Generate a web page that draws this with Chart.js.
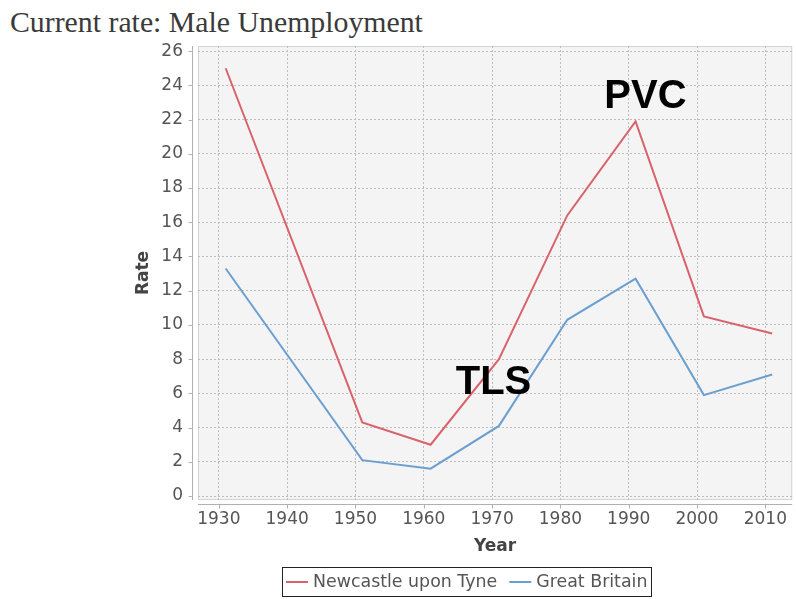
<!DOCTYPE html>
<html lang="en">
<head>
<meta charset="UTF-8">
<title>Current rate: Male Unemployment</title>
<script src="https://cdn.jsdelivr.net/npm/chart.js@4.4.1/dist/chart.umd.min.js"></script>
<style>
  html, body { margin: 0; padding: 0; background: #fff; }
  body { width: 796px; height: 599px; position: relative; overflow: hidden; }
  #title { position: absolute; left: 10px; top: 7px; font-family: "Liberation Serif", "Times New Roman", serif; font-size: 29.8px; line-height: 29px; color: #3a3a3a; white-space: nowrap; }
  #wrap { position: absolute; left: 0; top: 0; width: 796px; height: 599px; }
</style>
</head>
<body>
<div id="title">Current rate: Male Unemployment</div>
<div id="wrap"><canvas id="chart" width="796" height="599"></canvas></div>
<script>
// census years
const years = [1931, 1951, 1961, 1971, 1981, 1991, 2001, 2011];
const newcastle = [25.0, 4.3, 3.0, 8.0, 16.4, 21.9, 10.5, 9.5];
const britain = [13.3, 2.1, 1.6, 4.1, 10.3, 12.7, 5.9, 7.1];
const seriesNames = ["Newcastle upon Tyne", "Great Britain"];
// labels written over the plot, placed in data space
const notes = [
  { text: "PVC", year: 1992.45, rate: 23.5 },
  { text: "TLS", year: 1970.2, rate: 6.8 },
];

const RED = '#d9636b';
const BLUE = '#6b9fd1';
const SANS = '"DejaVu Sans", Verdana, sans-serif';

const pts = vals => vals.map((v, i) => ({ x: years[i], y: v }));

// JFreeChart-like plot: grey background, offset axis lines, boxed legend
const plotDecor = {
  id: 'plotDecor',
  beforeDraw(chart) {
    const { ctx, chartArea: a } = chart;
    ctx.save();
    ctx.fillStyle = '#f4f4f4';
    ctx.fillRect(a.left, a.top, a.right - a.left, a.bottom - a.top);
    ctx.strokeStyle = '#d4d4d4';
    ctx.lineWidth = 1;
    ctx.strokeRect(a.left + 0.5, a.top + 0.5, a.right - a.left - 1, a.bottom - a.top - 1);
    ctx.restore();
  },
  afterDraw(chart) {
    const { ctx, chartArea: a, scales } = chart;
    ctx.save();
    // axis lines + tick marks
    ctx.strokeStyle = '#b0b0b0';
    ctx.lineWidth = 1;
    const ax = a.left - 5.5, ay = a.bottom + 4.5;
    ctx.beginPath();
    ctx.moveTo(ax, a.top); ctx.lineTo(ax, a.bottom);
    ctx.moveTo(a.left, ay); ctx.lineTo(a.right, ay);
    scales.y.ticks.forEach(t => {
      const py = Math.round(scales.y.getPixelForValue(t.value)) + 0.5;
      ctx.moveTo(ax - 4, py); ctx.lineTo(ax, py);
    });
    scales.x.ticks.forEach(t => {
      const px = Math.round(scales.x.getPixelForValue(t.value)) + 0.5;
      ctx.moveTo(px, ay); ctx.lineTo(px, ay + 4);
    });
    ctx.stroke();

    // annotations
    ctx.fillStyle = '#000';
    ctx.font = 'bold 40px "Liberation Sans", Arial, sans-serif';
    ctx.textAlign = 'center';
    ctx.textBaseline = 'alphabetic';
    notes.forEach(n => {
      const px = scales.x.getPixelForValue(n.year);
      const py = scales.y.getPixelForValue(n.rate);
      ctx.fillText(n.text, px, py + 14.3);
    });

    // legend box
    ctx.font = '17.4px ' + SANS;
    ctx.textBaseline = 'middle';
    ctx.textAlign = 'left';
    const sample = 22, gap = 5, between = 12, pad = 4;
    const widths = chart.data.datasets.map(d => ctx.measureText(d.label).width);
    let total = pad * 2;
    widths.forEach((w, i) => { total += sample + gap + w + (i ? between : 0); });
    const cx = 467, top = 567, h = 29;
    let x = Math.round(cx - total / 2);
    ctx.strokeStyle = '#222';
    ctx.lineWidth = 1;
    ctx.strokeRect(x + 0.5, top + 0.5, Math.round(total), h);
    x += pad;
    const my = top + h / 2 + 0.5;
    chart.data.datasets.forEach((d, i) => {
      if (i) x += between;
      ctx.strokeStyle = d.borderColor;
      ctx.lineWidth = 2;
      ctx.beginPath(); ctx.moveTo(x, my); ctx.lineTo(x + sample, my); ctx.stroke();
      x += sample + gap;
      ctx.fillStyle = '#555';
      ctx.fillText(d.label, x, my);
      x += widths[i];
    });
    ctx.restore();
  }
};

new Chart(document.getElementById('chart'), {
  type: 'line',
  data: {
    datasets: [
      { label: seriesNames[0], data: pts(newcastle), borderColor: RED, backgroundColor: RED, borderWidth: 2, pointRadius: 0, tension: 0 },
      { label: seriesNames[1], data: pts(britain), borderColor: BLUE, backgroundColor: BLUE, borderWidth: 2, pointRadius: 0, tension: 0 },
    ]
  },
  options: {
    responsive: false,
    animation: false,
    layout: { padding: { left: 128, top: 46, right: 0, bottom: 0 } },
    plugins: { legend: { display: false }, tooltip: { enabled: false }, title: { display: false } },
    scales: {
      x: {
        type: 'linear',
        min: 1926.95,
        max: 2013.93,
        afterFit: s => { s.height = 99; },
        grid: { color: '#bdbdbd', drawTicks: false, lineWidth: 1 },
        border: { display: false, dash: [2, 2] },
        ticks: { stepSize: 10, includeBounds: false, padding: 9, color: '#555', font: { family: SANS, size: 17 }, callback: v => String(v) },
        title: { display: true, text: 'Year', color: '#444', font: { family: SANS, size: 17, weight: 'bold' }, padding: { top: 0, bottom: 42 } }
      },
      y: {
        min: -0.23,
        max: 26.3,
        afterFit: s => { s.width = 70; },
        grid: { color: '#bdbdbd', drawTicks: false, lineWidth: 1 },
        border: { display: false, dash: [2, 2] },
        ticks: { stepSize: 2, includeBounds: false, padding: 15, color: '#555', font: { family: SANS, size: 17 } },
        title: { display: true, text: 'Rate', color: '#444', font: { family: SANS, size: 17, weight: 'bold' }, padding: { top: 5, bottom: 0 } }
      }
    }
  },
  plugins: [plotDecor]
});
</script>
</body>
</html>
